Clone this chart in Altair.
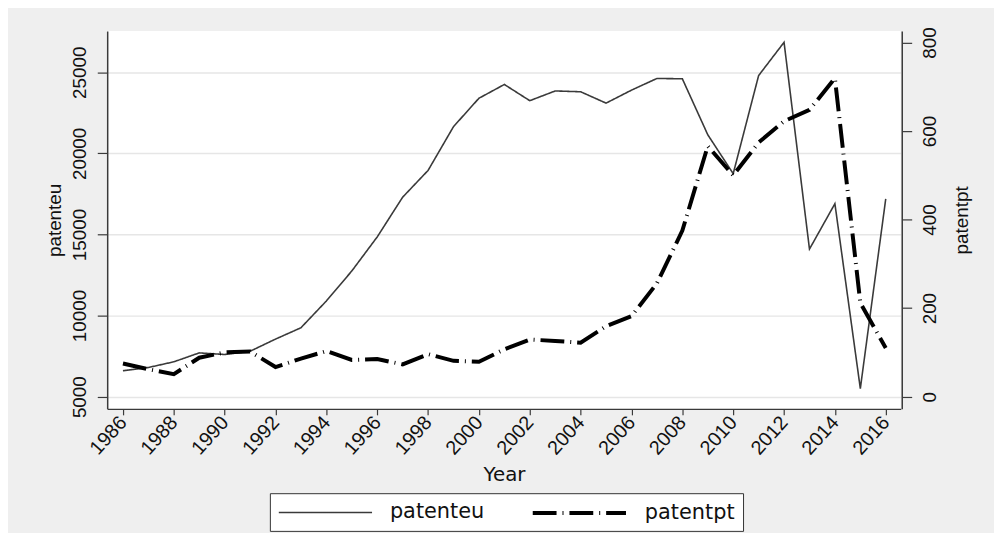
import altair as alt
import pandas as pd

years = list(range(1986, 2017))
patenteu = [6600, 6800, 7150, 7700, 7600, 7800, 8550, 9250, 10900, 12750,
            14850, 17300, 18950, 21650, 23400, 24250, 23250, 23850, 23800, 23100,
            23900, 24620, 24600, 21150, 18750, 24800, 26850, 14100, 16900, 5500,
            17200]
patentpt = [75, 62, 51, 88, 100, 102, 67, 86, 103, 83,
            85, 73, 96, 81, 79, 107, 129, 126, 122, 159,
            182, 256, 375, 566, 500, 574, 622, 648, 719, 212,
            110]
series_names = ["patenteu", "patentpt"]
x_ticks = list(range(1986, 2017, 2))
left_ticks = [5000, 10000, 15000, 20000, 25000]
right_ticks = [0, 200, 400, 600, 800]

df = pd.DataFrame({"year": years, "patenteu": patenteu, "patentpt": patentpt})

TICK_FONT = "Liberation Sans"
TXT_FONT = "DejaVu Sans"
AX_COLOR = "#3a3a3a"

legend = alt.Legend(
    title=None, orient="none", legendX=164, legendY=466, direction="horizontal",
    fillColor="white", strokeColor="#333333", padding=8,
    symbolType="M-1,0H8.4", symbolSize=400, labelFont=TXT_FONT, labelFontSize=21,
    labelColor="#111111", labelOffset=91, columnPadding=40, labelLimit=200,
    symbolFillColor="transparent",
)

color = alt.Color("series:N", scale=alt.Scale(domain=series_names, range=["#3a3a3a", "#000000"]), legend=legend)
dash = alt.StrokeDash("series:N", scale=alt.Scale(domain=series_names, range=[[1, 0], [24, 6, 1, 6]]), legend=legend)
width = alt.StrokeWidth("series:N", scale=alt.Scale(domain=series_names, range=[1.6, 4]), legend=legend)

x_enc = alt.X(
    "year:Q",
    scale=alt.Scale(domain=[1985.38, 2016.59], nice=False, zero=False),
    axis=alt.Axis(
        values=x_ticks, format="d", title="Year", labelAngle=-48, labelAlign="right",
        labelBaseline="middle", labelPadding=4, labelFont=TICK_FONT, labelFontSize=20,
        labelColor="#111111", tickSize=6, tickColor=AX_COLOR, domainColor=AX_COLOR,
        domainWidth=1.5, tickWidth=1.2, grid=False, labelFlush=False, labelOverlap=False,
        titleFont=TXT_FONT, titleFontSize=20, titleFontWeight="normal", titleColor="#111111",
        titlePadding=6,
    ),
)

eu = alt.Chart(df).transform_calculate(series="'patenteu'").mark_line(strokeJoin="miter").encode(
    x=x_enc,
    y=alt.Y(
        "patenteu:Q",
        scale=alt.Scale(domain=[4248, 27550], nice=False, zero=False),
        axis=alt.Axis(
            orient="left", values=left_ticks, format="d", title="patenteu", labelAngle=270,
            labelAlign="center", labelBaseline="bottom", labelPadding=8,
            labelFont=TICK_FONT, labelFontSize=19, labelColor="#111111",
            tickSize=10, tickColor=AX_COLOR, tickWidth=1.2, domainColor=AX_COLOR, domainWidth=1.5,
            grid=True, gridColor="#e6e6e6", gridWidth=1.5, labelFlush=False,
            titleAngle=270, titleFont=TICK_FONT, titleFontSize=19, titleFontWeight="normal",
            titleColor="#111111", titleX=-53, titleY=190.5, titleAlign="center", titleBaseline="middle",
        ),
    ),
    color=color, strokeDash=dash, strokeWidth=width,
)

pt = alt.Chart(df).transform_calculate(series="'patentpt'").mark_line(strokeJoin="miter").encode(
    x=x_enc,
    y=alt.Y(
        "patentpt:Q",
        scale=alt.Scale(domain=[-27.5, 826], nice=False, zero=False),
        axis=alt.Axis(
            orient="right", values=right_ticks, format="d", title="patentpt", labelAngle=270,
            labelAlign="center", labelBaseline="top", labelPadding=9, offset=1,
            labelFont=TICK_FONT, labelFontSize=19, labelColor="#111111",
            tickSize=10, tickColor=AX_COLOR, tickWidth=1.2, domainColor=AX_COLOR, domainWidth=1.5,
            grid=False, labelFlush=False,
            titleAngle=270, titleFont=TICK_FONT, titleFontSize=19, titleFontWeight="normal",
            titleColor="#111111", titleX=60, titleY=190.5, titleAlign="center", titleBaseline="middle",
        ),
    ),
    color=color, strokeDash=dash, strokeWidth=width,
)

chart = alt.layer(eu, pt).resolve_scale(y="independent").properties(
    width=800, height=381,
    padding={"left": 100, "top": 21, "right": 94, "bottom": 123},
    autosize=alt.AutoSizeParams(type="none"),
    background="#efefef",
).configure_view(fill="white", stroke=None)

chart.save("out.html", embed_options={"renderer": "svg", "actions": False})
